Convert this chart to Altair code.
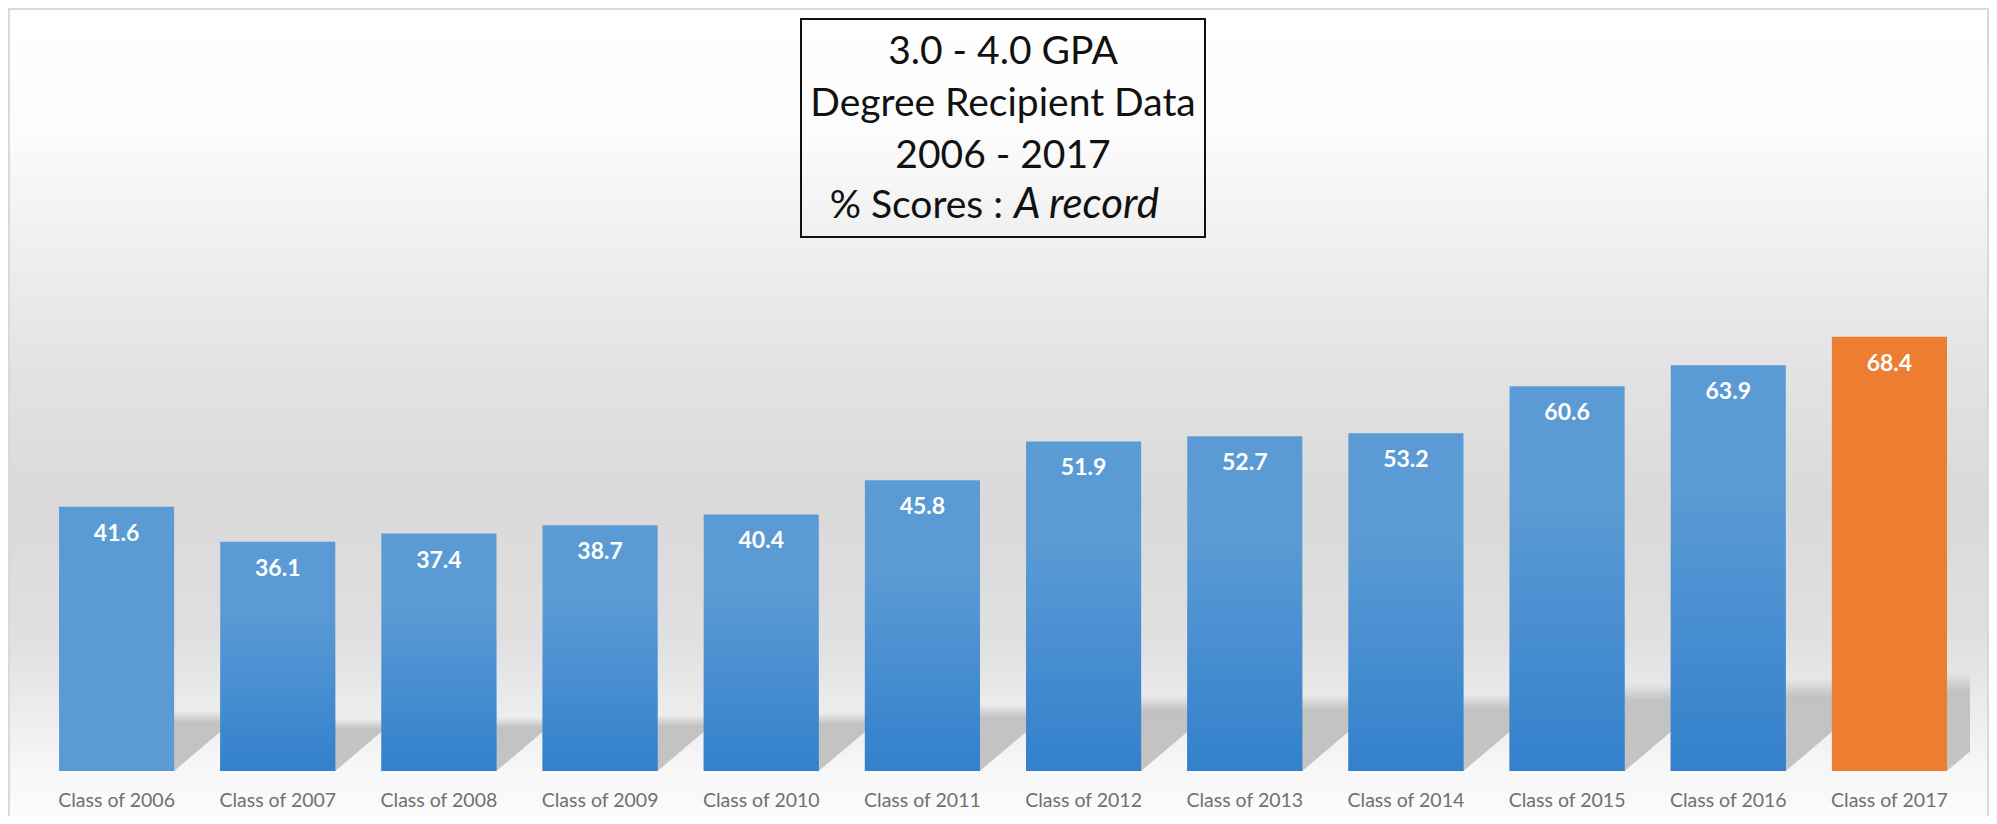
import altair as alt
import pandas as pd

# ---------------- data ----------------
classes = ["Class of 2006", "Class of 2007", "Class of 2008", "Class of 2009",
           "Class of 2010", "Class of 2011", "Class of 2012", "Class of 2013",
           "Class of 2014", "Class of 2015", "Class of 2016", "Class of 2017"]
values = [41.6, 36.1, 37.4, 38.7, 40.4, 45.8, 51.9, 52.7, 53.2, 60.6, 63.9, 68.4]

title_lines = ["3.0 - 4.0 GPA", "Degree Recipient Data", "2006 - 2017"]
title_last_plain = "% Scores :"
title_last_italic = "A record"

df = pd.DataFrame({"cls": classes, "value": values})

# ---------------- layout ----------------
W, H = 1934, 508
PAD_L, PAD_T, PAD_R, PAD_B = 28, 255, 19, 45
YDOM = [0, 80]
FONT = "Lato"
TITLE_SIZE = 39
TITLE_BASE = [-199, -147, -95, -45]

# shadow polygons (perspective shadow cast up-right of each bar)
HALF = 0.357          # half bar width in band-index units
SKEW = 0.0106         # horizontal shift per value unit (index units)
SH_H = 0.2285         # shadow height per value unit (y units)
rows = []
for i, v in enumerate(values):
    s, h = SKEW * v, SH_H * v
    xl, xr = i - HALF, i + HALF

    def top(x):
        return h if x >= xl + s else max(0.0, (x - xl) / s * h)

    def bot(x):
        return 0.0 if x <= xr else min(h, (x - xr) / s * h)

    for x in sorted([xl, xr, xl + s, xr + s]):
        rows.append({"cls": classes[i], "sx": x, "top": top(x), "bot": bot(x)})
shadow_df = pd.DataFrame(rows)

yscale = alt.Scale(domain=YDOM, nice=False, zero=True)
xband = alt.Scale(domain=classes, paddingInner=0.286, paddingOuter=0.143)

# ---------------- background ----------------
bg_grad = alt.LinearGradient(
    gradient="linear", x1=0, x2=0, y1=0, y2=1,
    stops=[
        alt.GradientStop(offset=0.0, color="#ffffff"),
        alt.GradientStop(offset=0.15, color="#fcfcfc"),
        alt.GradientStop(offset=0.28, color="#f0f0f0"),
        alt.GradientStop(offset=0.44, color="#e3e3e3"),
        alt.GradientStop(offset=0.61, color="#d9d9d9"),
        alt.GradientStop(offset=0.78, color="#e0e0e0"),
        alt.GradientStop(offset=0.86, color="#ebebeb"),
        alt.GradientStop(offset=0.94, color="#f7f7f7"),
        alt.GradientStop(offset=1.0, color="#fbfbfb"),
    ],
)
background = alt.Chart(alt.Data(values=[{}])).mark_rect(
    color=bg_grad, stroke="#d9d9d9", strokeWidth=2
).encode(
    x=alt.value(-PAD_L + 1), x2=alt.value(W + PAD_R - 1),
    y=alt.value(-PAD_T + 1), y2=alt.value(H + PAD_B + 2),
)

# ---------------- shadows ----------------
sh_grad = alt.LinearGradient(
    gradient="linear", x1=0, x2=0, y1=0, y2=1,
    stops=[
        alt.GradientStop(offset=0.0, color="rgba(192,192,192,0)"),
        alt.GradientStop(offset=0.2, color="rgba(194,194,194,1)"),
        alt.GradientStop(offset=1.0, color="rgba(196,196,196,1)"),
    ],
)
shadows = alt.Chart(shadow_df).mark_area(color=sh_grad, clip=True).encode(
    x=alt.X("sx:Q", scale=alt.Scale(domain=[-0.5, 11.5], nice=False, zero=False), axis=None),
    y=alt.Y("top:Q", scale=yscale, axis=None),
    y2="bot:Q",
    detail="cls:N",
)

# ---------------- bars ----------------
bars = alt.Chart(df).mark_bar().encode(
    x=alt.X("cls:N", sort=classes, scale=xband, title=None,
            axis=alt.Axis(domain=False, ticks=False, tickSize=0, grid=False,
                          labelAngle=0, labelFont=FONT, labelFontSize=19.5,
                          labelColor="#707070", labelPadding=35,
                          labelBaseline="alphabetic", zindex=2)),
    y=alt.Y("value:Q", scale=yscale, axis=None),
    color=alt.condition(alt.datum.cls == "Class of 2017",
                        alt.value("#ed7d31"), alt.value("#5b9bd5")),
)

bar_grad = alt.LinearGradient(
    gradient="linear", x1=0, x2=0, y1=0, y2=1,
    stops=[
        alt.GradientStop(offset=0.0, color="rgba(51,128,204,0)"),
        alt.GradientStop(offset=0.3, color="rgba(51,128,204,0)"),
        alt.GradientStop(offset=1.0, color="rgba(51,128,204,1)"),
    ],
)
shade = alt.Chart(df).transform_filter(
    "datum.cls != 'Class of 2006' && datum.cls != 'Class of 2017'"
).mark_bar(color=bar_grad).encode(
    x=alt.X("cls:N", sort=classes, scale=xband, axis=None),
    y=alt.Y("value:Q", scale=yscale, axis=None),
)

labels = alt.Chart(df).mark_text(
    color="white", font=FONT, fontWeight="bold", fontSize=23,
    baseline="alphabetic", dy=34,
).encode(
    x=alt.X("cls:N", sort=classes, scale=xband, axis=None),
    y=alt.Y("value:Q", scale=yscale, axis=None),
    text=alt.Text("value:Q", format=".1f"),
)

# ---------------- title box ----------------
CX = W / 2
box = alt.Chart(alt.Data(values=[{}])).mark_rect(
    fillOpacity=0, stroke="#111111", strokeWidth=2
).encode(
    x=alt.value(765), x2=alt.value(1169), y=alt.value(-244), y2=alt.value(-26),
)

title_layers = []
for line, yb in zip(title_lines, TITLE_BASE[:3]):
    title_layers.append(
        alt.Chart(alt.Data(values=[{"t": line}])).mark_text(
            font=FONT, fontSize=TITLE_SIZE, color="#111111",
            baseline="alphabetic", align="center"
        ).encode(x=alt.value(CX), y=alt.value(yb), text="t:N")
    )
t4a = alt.Chart(alt.Data(values=[{"t": title_last_plain}])).mark_text(
    font=FONT, fontSize=TITLE_SIZE, color="#111111", baseline="alphabetic", align="right"
).encode(x=alt.value(CX), y=alt.value(TITLE_BASE[3]), text="t:N")
t4b = alt.Chart(alt.Data(values=[{"t": title_last_italic}])).mark_text(
    font=FONT, fontSize=42, fontStyle="italic", color="#111111",
    baseline="alphabetic", align="left"
).encode(x=alt.value(CX + 11), y=alt.value(TITLE_BASE[3]), text="t:N")

chart = alt.layer(
    background, shadows, bars, shade, labels, box, *title_layers, t4a, t4b
).resolve_scale(x="independent", y="independent").properties(
    width=W, height=H,
    padding={"left": PAD_L, "top": PAD_T, "right": PAD_R, "bottom": PAD_B},
    autosize=alt.AutoSizeParams(type="none"),
).configure_view(stroke=None)

chart.save("out.html", embed_options={"renderer": "svg", "actions": False})
